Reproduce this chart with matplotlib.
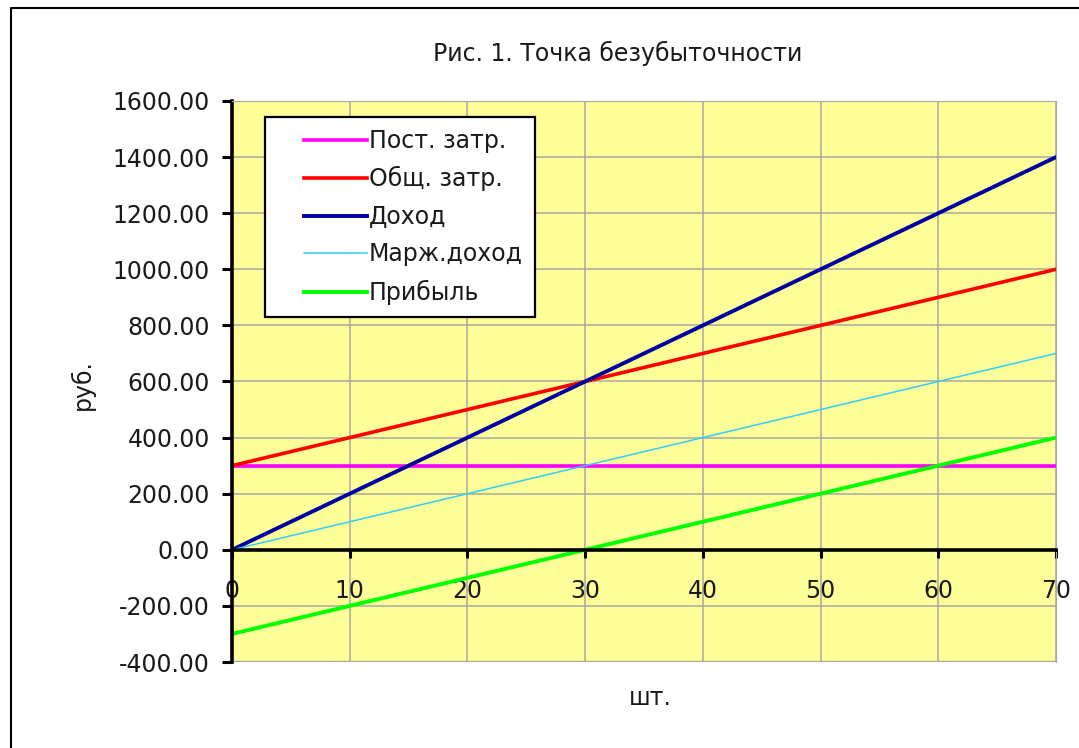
import numpy as np
import matplotlib.pyplot as plt
from matplotlib.lines import Line2D
from matplotlib.legend_handler import HandlerLine2D

# объём выпуска, шт.
qty = [0, 10, 20, 30, 40, 50, 60, 70]
post_zatr = [300, 300, 300, 300, 300, 300, 300, 300]
obsh_zatr = [300, 400, 500, 600, 700, 800, 900, 1000]
dohod = [0, 200, 400, 600, 800, 1000, 1200, 1400]
marzh_dohod = [0, 100, 200, 300, 400, 500, 600, 700]
pribyl = [-300, -200, -100, 0, 100, 200, 300, 400]

y_ticks = [-400, -200, 0, 200, 400, 600, 800, 1000, 1200, 1400, 1600]
x_ticks = [0, 10, 20, 30, 40, 50, 60, 70]

FS = 17
TXT = '#1a1a1a'


class RightLine(HandlerLine2D):
    # линия в легенде занимает только правую часть места под значок
    def get_xdata(self, legend, xdescent, ydescent, width, height, fontsize):
        x0 = -xdescent + width * 0.3
        x1 = -xdescent + width
        return np.array([x0, x1]), np.array([(x0 + x1) / 2])


plt.rcParams['font.family'] = ['DejaVu Sans']

fig = plt.figure(figsize=(10.79, 7.48), dpi=100)
# рамка диаграммы (видны только левый и верхний края)
fig.add_artist(Line2D([11 / 1079, 11 / 1079, 1.0], [0.0, 1 - 8 / 748, 1 - 8 / 748],
                      transform=fig.transFigure, color='black', lw=1.5))

ax = fig.add_axes([232 / 1079, 1 - 662 / 748, 824 / 1079, 561 / 748])
ax.set_facecolor('#FFFF99')

ax.plot(qty, post_zatr, color='#FF00FF', lw=2.6, label='Пост. затр.')
ax.plot(qty, obsh_zatr, color='#FF0000', lw=2.6, label='Общ. затр.')
ax.plot(qty, dohod, color='#0000A0', lw=2.8, label='Доход')
ax.plot(qty, marzh_dohod, color='#33CCFF', lw=1.1, label='Марж.доход')
ax.plot(qty, pribyl, color='#00FF00', lw=2.8, label='Прибыль')

ax.set_xlim(0, 70)
ax.set_ylim(-400, 1600)
ax.set_xticks(x_ticks)
ax.set_yticks(y_ticks)
ax.set_yticklabels(['%.2f' % v for v in y_ticks])
ax.grid(True, color='#A8A8A0', lw=1.1)
ax.set_axisbelow(True)

ax.spines['bottom'].set_position(('data', 0))
ax.spines['bottom'].set_color('black')
ax.spines['bottom'].set_linewidth(2.6)
ax.spines['left'].set_color('black')
ax.spines['left'].set_linewidth(2.6)
ax.spines['top'].set_color('#A8A8A0')
ax.spines['right'].set_color('#A8A8A0')
ax.axhline(-400, color='#909088', lw=1.6, zorder=0.5)

ax.tick_params(axis='x', direction='out', length=6, width=2.2, pad=15,
               labelsize=FS, labelcolor=TXT)
ax.tick_params(axis='y', direction='out', length=7, width=2.2, pad=9,
               labelsize=FS, labelcolor=TXT)

fig.text(618 / 1079, 1 - 53 / 748, 'Рис. 1. Точка безубыточности',
         ha='center', va='center', fontsize=FS, color=TXT)
fig.text(650 / 1079, 1 - 698 / 748, 'шт.', ha='center', va='center',
         fontsize=FS, color=TXT)
fig.text(82 / 1079, 1 - 385 / 748, 'руб.', ha='center', va='center',
         rotation=90, fontsize=FS, color=TXT)

leg = ax.legend(loc='upper left', bbox_to_anchor=((265 - 232) / 824, (662 - 117) / 561),
                fontsize=FS, fancybox=False, framealpha=1, edgecolor='black',
                handlelength=3.8, handletextpad=0.1, labelspacing=0.57,
                borderpad=0.5, borderaxespad=0,
                handler_map={Line2D: RightLine()})
leg.get_frame().set_linewidth(1.6)
for t in leg.get_texts():
    t.set_color(TXT)

fig.savefig('out.png', dpi=100)
